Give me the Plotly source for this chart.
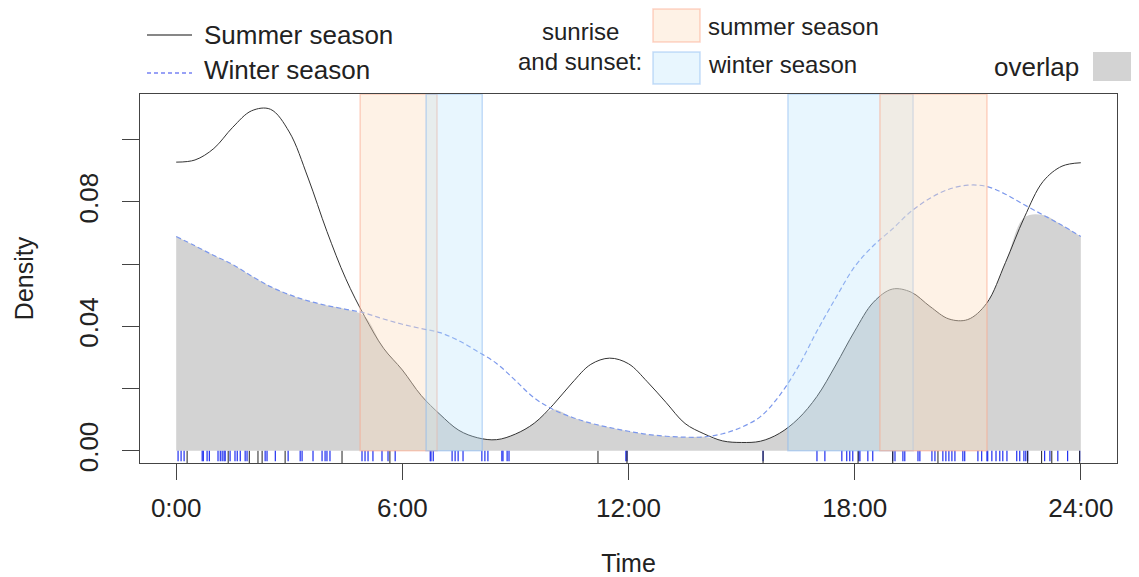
import plotly.graph_objects as go

# ---------------- data ----------------
hours = [i * 0.5 for i in range(49)]

summer_density = [0.0928, 0.0935, 0.0972, 0.1040, 0.1093, 0.1098, 0.1025, 0.0877,
                  0.0705, 0.0553, 0.0432, 0.0330, 0.0260, 0.0178, 0.0117, 0.0066,
                  0.0042, 0.0036, 0.0054, 0.0089, 0.0148, 0.0218, 0.0278, 0.0298,
                  0.0280, 0.0222, 0.0155, 0.0088, 0.0055, 0.0032, 0.0027, 0.0031,
                  0.0056, 0.0103, 0.0175, 0.0276, 0.0385, 0.0478, 0.0520, 0.0510,
                  0.0464, 0.0424, 0.0422, 0.0474, 0.0605, 0.0750, 0.0866, 0.0915,
                  0.0926]

winter_density = [0.0689, 0.0659, 0.0628, 0.0599, 0.0562, 0.0528, 0.0502, 0.0482,
                  0.0467, 0.0455, 0.0443, 0.0424, 0.0407, 0.0393, 0.0380, 0.0354,
                  0.0319, 0.0281, 0.0226, 0.0170, 0.0133, 0.0108, 0.0089, 0.0075,
                  0.0063, 0.0053, 0.0047, 0.0044, 0.0045, 0.0055, 0.0076, 0.0110,
                  0.0177, 0.0270, 0.0385, 0.0492, 0.0592, 0.0660, 0.0713, 0.0770,
                  0.0812, 0.0841, 0.0854, 0.0850, 0.0825, 0.0791, 0.0758, 0.0725,
                  0.0689]

# rug: observation times (hours)
summer_obs = [0.29, 1.38, 1.94, 2.17, 2.28, 2.89, 4.40, 5.67, 11.19, 11.96, 15.57,
              18.09, 19.01, 20.21, 22.59, 22.96, 23.23, 23.97]
winter_obs = [0.05, 0.13, 0.21, 0.69, 0.72, 0.82, 0.88, 1.11, 1.17, 1.22, 1.27, 1.30,
              1.43, 1.56, 1.62, 1.70, 1.83, 1.88, 2.36, 2.41, 2.63, 2.97, 3.29, 3.34,
              3.63, 3.87, 3.95, 4.00, 4.08, 4.93, 5.01, 5.09, 5.22, 5.46, 5.62, 5.81,
              6.74, 6.76, 6.82, 7.32, 7.40, 7.48, 7.61, 8.11, 8.19, 8.27, 8.64, 8.67,
              8.78, 8.83, 11.93, 11.96, 15.57, 17.00, 17.21, 17.66, 17.79, 17.87,
              17.95, 18.11, 18.14, 18.35, 18.48, 19.01, 19.07, 19.28, 19.33, 19.68,
              19.73, 20.05, 20.13, 20.34, 20.42, 20.50, 20.58, 20.66, 20.87, 20.92,
              21.27, 21.37, 21.51, 21.53, 21.64, 21.75, 21.85, 21.93, 22.04, 22.30,
              22.38, 22.49, 22.54, 22.59, 23.04, 23.18, 23.39, 23.65, 23.97]

# sunrise / sunset ranges (hours)
summer_sunrise = [4.88, 6.92]
winter_sunrise = [6.63, 8.12]
winter_sunset = [16.23, 19.55]
summer_sunset = [18.67, 21.51]

x_tickvals = [0, 6, 12, 18, 24]
x_ticktext = ["0:00", "6:00", "12:00", "18:00", "24:00"]
y_tickvals = [0.00, 0.02, 0.04, 0.06, 0.08, 0.10]
y_ticktext = ["0.00", "", "0.04", "", "0.08", ""]

overlap_density = [min(s, w) for s, w in zip(summer_density, winter_density)]

# ---------------- layout helpers ----------------
PAGE_W, PAGE_H = 1139, 577
OFF = 8                      # default body margin of the html page
W, H = PAGE_W - OFF, PAGE_H - OFF
L, R, T, B = 140, 1117, 94, 463   # plot box in page pixels
YMIN, YMAX = -0.0039, 0.1147
FONT = "Liberation Sans, Arial, sans-serif"
TXT = "#222222"


def px(x):
    return (x - L) / (R - L)


def py(y):
    return (B - y) / (B - T)


fig = go.Figure()

# overlap area
fig.add_trace(go.Scatter(x=hours, y=overlap_density, mode="lines", fill="tozeroy",
                         fillcolor="#D3D3D3", line=dict(width=0, shape="spline"),
                         hoverinfo="skip", showlegend=False))
# summer line
fig.add_trace(go.Scatter(x=hours, y=summer_density, mode="lines",
                         line=dict(color="#333333", width=1, shape="spline"),
                         showlegend=False))
# winter line
fig.add_trace(go.Scatter(x=hours, y=winter_density, mode="lines",
                         line=dict(color="#7C98EC", width=1.2, dash="5px,3px", shape="spline"),
                         showlegend=False))


def rug(times, y0, y1):
    xs, ys = [], []
    for t in times:
        xs += [t, t, None]
        ys += [y0, y1, None]
    return xs, ys


xs, ys = rug(winter_obs, -0.0033, 0.0)
fig.add_trace(go.Scatter(x=xs, y=ys, mode="lines", line=dict(color="#1F2FF0", width=1.2),
                         hoverinfo="skip", showlegend=False))
xs, ys = rug(summer_obs, -0.0039, 0.0)
fig.add_trace(go.Scatter(x=xs, y=ys, mode="lines", line=dict(color="#222222", width=1),
                         hoverinfo="skip", showlegend=False))

SUMMER_FILL = "rgba(252,222,193,0.40)"
SUMMER_EDGE = "rgba(250,160,130,0.45)"
WINTER_FILL = "rgba(183,227,252,0.32)"
WINTER_EDGE = "rgba(130,180,240,0.45)"

shapes = []
for rng, fc, ec in [(summer_sunrise, SUMMER_FILL, SUMMER_EDGE),
                    (winter_sunrise, WINTER_FILL, WINTER_EDGE),
                    (winter_sunset, WINTER_FILL, WINTER_EDGE),
                    (summer_sunset, SUMMER_FILL, SUMMER_EDGE)]:
    shapes.append(dict(type="rect", xref="x", yref="y", x0=rng[0], x1=rng[1],
                       y0=0, y1=YMAX, fillcolor=fc, line=dict(color=ec, width=1.5),
                       layer="above"))

# legend: lines
shapes.append(dict(type="line", xref="paper", yref="paper", x0=px(147), x1=px(192),
                   y0=py(35), y1=py(35), line=dict(color="#111111", width=1.2)))
shapes.append(dict(type="line", xref="paper", yref="paper", x0=px(147), x1=px(192),
                   y0=py(73), y1=py(73), line=dict(color="#3344EE", width=1.2, dash="4px,3px")))
# legend: swatches
shapes.append(dict(type="rect", xref="paper", yref="paper", x0=px(653), x1=px(700),
                   y0=py(42), y1=py(9), fillcolor=SUMMER_FILL,
                   line=dict(color=SUMMER_EDGE, width=1.5)))
shapes.append(dict(type="rect", xref="paper", yref="paper", x0=px(653), x1=px(700),
                   y0=py(84), y1=py(52), fillcolor=WINTER_FILL,
                   line=dict(color=WINTER_EDGE, width=1.5)))
shapes.append(dict(type="rect", xref="paper", yref="paper", x0=px(1093), x1=px(1142),
                   y0=py(81), y1=py(52), fillcolor="#D3D3D3", line=dict(width=0)))

annotations = []


def text(x, y, s, size, xanchor="left"):
    annotations.append(dict(xref="paper", yref="paper", x=px(x), y=py(y), text=s,
                            showarrow=False, xanchor=xanchor, yanchor="middle",
                            font=dict(family=FONT, size=size, color=TXT)))


text(202, 35, "Summer season", 26)
text(202, 70, "Winter season", 26)
text(580, 32, "sunrise", 24, "center")
text(580, 61, "and sunset:", 24, "center")
text(706, 26, "summer season", 24)
text(706, 65, "winter season", 24)
text(1081, 67, "overlap", 26, "right")

fig.update_layout(
    width=W, height=H,
    margin=dict(l=L - OFF, r=PAGE_W - R, t=T - OFF, b=PAGE_H - B, autoexpand=False),
    paper_bgcolor="white", plot_bgcolor="white",
    shapes=shapes, annotations=annotations,
    showlegend=False,
    font=dict(family=FONT, color=TXT),
    xaxis=dict(range=[-0.96, 24.96], tickvals=x_tickvals, ticktext=x_ticktext,
               showgrid=False, zeroline=False, showline=True, mirror=True,
               linecolor="#444444", linewidth=1, ticks="outside", ticklen=16,
               tickcolor="#444444", ticklabelstandoff=6,
               tickfont=dict(family=FONT, size=26, color=TXT),
               automargin=False,
               title=dict(text="Time", font=dict(family=FONT, size=25, color=TXT), standoff=40)),
    yaxis=dict(range=[YMIN, YMAX], tickvals=y_tickvals, ticktext=y_ticktext,
               showgrid=False, zeroline=False, showline=True, mirror=True,
               linecolor="#444444", linewidth=1, ticks="outside", ticklen=17,
               tickcolor="#444444", tickangle=-90, ticklabelstandoff=14,
               tickfont=dict(family=FONT, size=26, color=TXT),
               automargin=False,
               title=dict(text="Density", font=dict(family=FONT, size=25, color=TXT), standoff=32)),
)

fig.write_html("out.html")
